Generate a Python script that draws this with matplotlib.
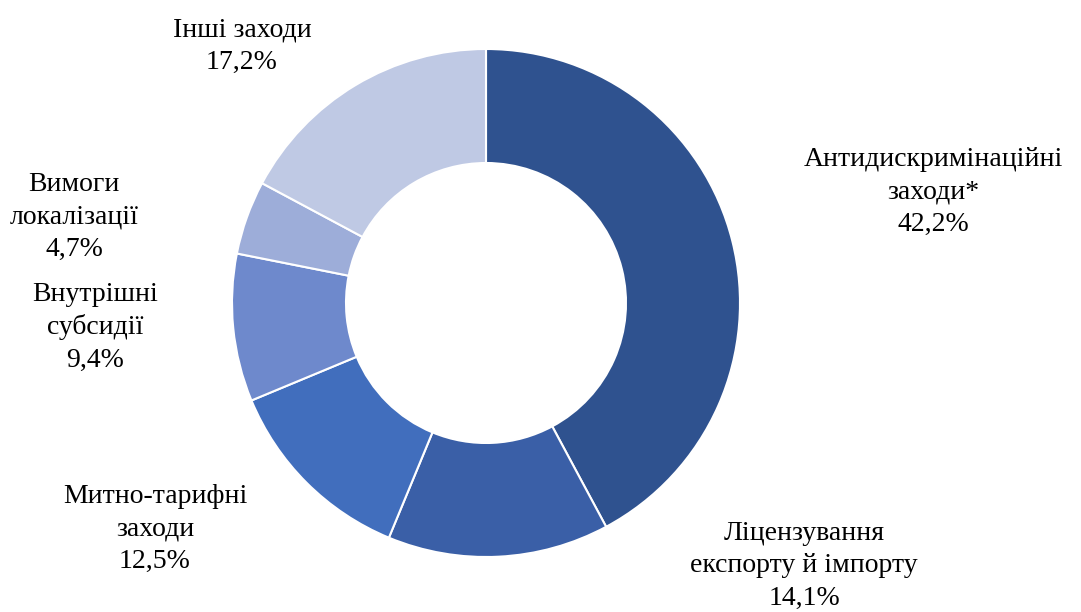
import matplotlib.pyplot as plt

# Shares of measures, %
labels = ['Антидискримінаційні\nзаходи*', 'Ліцензування\nекспорту й імпорту',
          'Митно-тарифні\nзаходи', 'Внутрішні\nсубсидії',
          'Вимоги\nлокалізації', 'Інші заходи']
shares = [42.2, 14.1, 12.5, 9.4, 4.7, 17.2]
colors = ['#2F528F', '#3A5FA7', '#416EBD', '#6E89CC', '#9DADD9', '#BFC9E4']

# label anchor points (pixel space, y from top)
label_xy = [(933, 192), (804, 566), (155, 529), (95, 327), (74, 217), (242, 46)]

plt.rcParams['font.family'] = ['Liberation Serif', 'DejaVu Serif']

fig = plt.figure(figsize=(10.81, 6.12), dpi=100)
ax = fig.add_axes([0, 0, 1, 1])

wedges, _ = ax.pie(shares, colors=colors, startangle=-90, counterclock=True,
                   center=(486, 303), radius=254,
                   wedgeprops=dict(width=114, edgecolor='white', linewidth=1.5),
                   frame=True)
ax.set_xlim(0, 1081)
ax.set_ylim(612, 0)
ax.set_aspect('equal')
ax.axis('off')

for lab, val, (x, y) in zip(labels, shares, label_xy):
    txt = lab + '\n' + f'{val:.1f}%'.replace('.', ',')
    ax.text(x, y, txt, ha='center', va='center', fontsize=20,
            linespacing=1.38, color='black')

fig.savefig('out.png', dpi=100)
